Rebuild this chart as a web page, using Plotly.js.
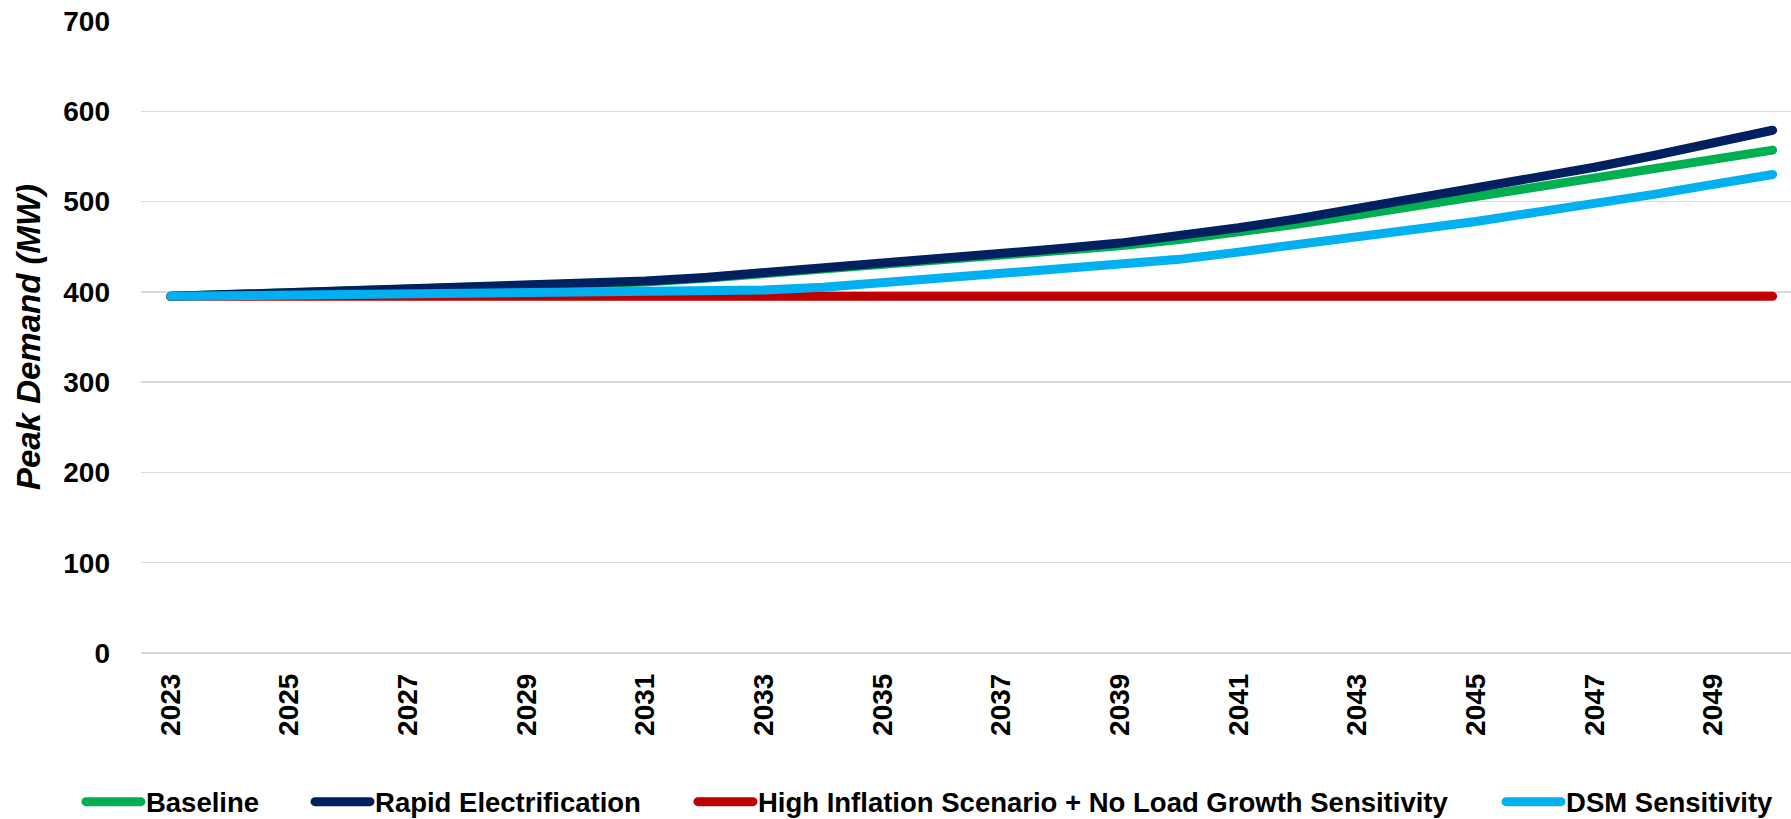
<!DOCTYPE html>
<html>
<head>
<meta charset="utf-8">
<script src="https://cdn.plot.ly/plotly-3.0.1.min.js"></script>
<style>
  html, body { margin: 0; padding: 0; background: #ffffff; }
  #chart { width: 1791px; height: 819px; }
  .scatterlayer .js-line, .legendlines path { stroke-linecap: round; }
</style>
</head>
<body>
<div id="chart"></div>
<script>
// Forecast years
const years = [2023, 2024, 2025, 2026, 2027, 2028, 2029, 2030, 2031, 2032,
               2033, 2034, 2035, 2036, 2037, 2038, 2039, 2040, 2041, 2042,
               2043, 2044, 2045, 2046, 2047, 2048, 2049, 2050];

// Peak demand (MW) by scenario
const baseline = [395, 397, 398, 400, 402, 404, 406, 408, 411, 415,
                  420, 425, 430, 435, 440, 445, 451, 458, 466, 475,
                  485, 495, 505, 515, 525, 536, 546, 557];
const rapidElectrification = [395, 397, 399, 401, 403, 405, 407, 409, 412, 416,
                              421, 426, 432, 437, 443, 448, 454, 462, 471, 481,
                              492, 503, 514, 526, 538, 551, 564, 579];
const highInflationNoGrowth = [395, 395, 395, 395, 395, 395, 395, 395, 395, 395,
                               395, 395, 395, 395, 395, 395, 395, 395, 395, 395,
                               395, 395, 395, 395, 395, 395, 395, 395];
const dsmSensitivity = [395, 395.5, 396, 396.5, 397, 397.5, 398, 399, 400, 401,
                        402, 405, 410, 415, 420, 424, 429, 436, 444, 452,
                        460, 469, 478, 488, 497, 508, 519, 530];

const seriesNames = ["Baseline", "Rapid Electrification",
                     "High Inflation Scenario + No Load Growth Sensitivity", "DSM Sensitivity"];
const seriesColors = ["#00B050", "#002060", "#C00000", "#00B0F0"];
const seriesValues = [baseline, rapidElectrification, highInflationNoGrowth, dsmSensitivity];

// Every other year is labelled on the axis
const tickYears = years.filter((y, i) => i % 2 === 0);

// Each series gets its own legend box so the entries can be spaced out along the bottom
const legendIds = ["legend", "legend2", "legend3", "legend4"];
const legendLeft = [0.0452, 0.1731, 0.3869, 0.8381];

const traces = seriesValues.map((vals, i) => ({
  type: "scatter",
  mode: "lines",
  name: seriesNames[i],
  legend: legendIds[i],
  x: years,
  y: vals,
  line: { color: seriesColors[i], width: 9 },
  hoverinfo: "skip"
}));

const boldFont = "Liberation Sans, Arial, sans-serif";

const layout = {
  width: 1791,
  height: 819,
  paper_bgcolor: "#ffffff",
  plot_bgcolor: "#ffffff",
  margin: { l: 141, r: 0, t: 21, b: 166 },
  showlegend: true,
  xaxis: {
    type: "linear",
    range: [2022.5, 2050.31],
    tickmode: "array",
    tickvals: tickYears,
    ticktext: tickYears.map(String),
    tickangle: -90,
    ticks: "",
    ticklabelstandoff: 14,
    showgrid: false,
    zeroline: false,
    showline: false,
    tickfont: { family: boldFont, size: 28, color: "#000000", weight: "bold" }
  },
  yaxis: {
    range: [0, 700],
    dtick: 100,
    tick0: 0,
    ticks: "",
    ticklabelstandoff: 30,
    showgrid: true,
    gridcolor: "#d9d9d9",
    gridwidth: 1.5,
    zeroline: true,
    zerolinecolor: "#d9d9d9",
    zerolinewidth: 1.5,
    showline: false,
    tickfont: { family: boldFont, size: 28, color: "#000000", weight: "bold" },
    title: {
      text: "<i>Peak Demand (MW)</i>",
      standoff: 12,
      font: { family: boldFont, size: 33, color: "#000000", weight: "bold" }
    }
  }
};

legendIds.forEach((id, i) => {
  layout[id] = {
    orientation: "h",
    xref: "container",
    yref: "container",
    x: legendLeft[i],
    xanchor: "left",
    y: 0.021,
    yanchor: "middle",
    itemwidth: 55,
    bgcolor: "rgba(0,0,0,0)",
    font: { family: boldFont, size: 27.5, color: "#000000", weight: "bold" }
  };
});

Plotly.newPlot("chart", traces, layout, { displayModeBar: false, staticPlot: true });
</script>
</body>
</html>
